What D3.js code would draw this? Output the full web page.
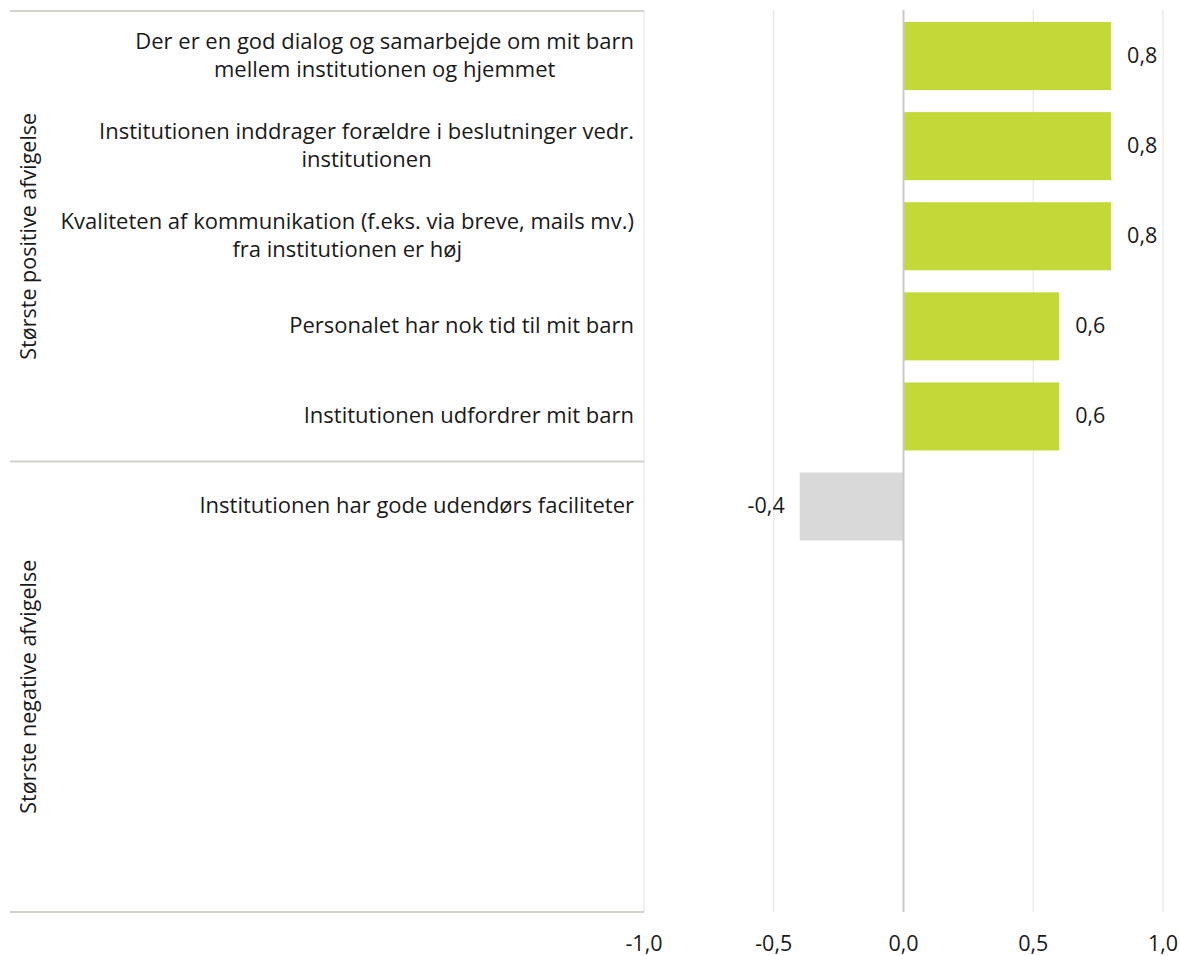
<!DOCTYPE html>
<html>
<head>
<meta charset="utf-8">
<script src="https://cdn.jsdelivr.net/npm/d3@7"></script>
<style>
  body { margin: 0; background: #fff; }
  svg text { font-family: "Open Sans", "Noto Sans", sans-serif; fill: #1a1a1a; }
</style>
</head>
<body>
<svg id="chart" width="1180" height="956"></svg>
<script>
// ---- data ----
const categories = [
  "Der er en god dialog og samarbejde om mit barn\nmellem institutionen og hjemmet",
  "Institutionen inddrager forældre i beslutninger vedr.\ninstitutionen",
  "Kvaliteten af kommunikation (f.eks. via breve, mails mv.)\nfra institutionen er høj",
  "Personalet har nok tid til mit barn",
  "Institutionen udfordrer mit barn",
  "Institutionen har gode udendørs faciliteter"
];
const values = [0.8, 0.8, 0.8, 0.6, 0.6, -0.4];
const groups = ["Største positive afvigelse", "Største negative afvigelse"];
const groupSlots = [5, 5];
const tickValues = [-1.0, -0.5, 0.0, 0.5, 1.0];
const tickLabels = ["-1,0", "-0,5", "0,0", "0,5", "1,0"];

// ---- layout ----
const svg = d3.select("#chart");
const plotTop = 11, plotBottom = 912;
const xLeft = 644, xRight = 1163;
const lineLeft = 10;
const totalSlots = d3.sum(groupSlots);
const rows = d3.range(totalSlots);
const fs = 21.5;

const x = d3.scaleLinear().domain([-1, 1]).range([xLeft, xRight]);
const y = d3.scaleBand().domain(rows).range([plotTop, plotBottom])
  .paddingInner(0.245).paddingOuter(0.1225);
const step = y.step();

const fmt = v => d3.format(".1f")(v).replace(".", ",").replace("\u2212", "-");

// gridlines
svg.append("g").selectAll("line")
  .data(tickValues.filter(v => v !== 0))
  .join("line")
  .attr("x1", d => x(d)).attr("x2", d => x(d))
  .attr("y1", plotTop - 1).attr("y2", plotBottom)
  .attr("stroke", "#e2e2e2").attr("stroke-width", 1);

// group separator lines on left
let acc = 0;
const sepIdx = [0];
groupSlots.forEach(s => { acc += s; sepIdx.push(acc); });
svg.append("g").selectAll("line")
  .data(sepIdx)
  .join("line")
  .attr("x1", lineLeft).attr("x2", xLeft)
  .attr("y1", d => plotTop + d * step).attr("y2", d => plotTop + d * step)
  .attr("stroke", "#d3d3cb").attr("stroke-width", 2);

// bars
svg.append("g").selectAll("rect")
  .data(values)
  .join("rect")
  .attr("x", d => x(Math.min(0, d)))
  .attr("width", d => Math.abs(x(d) - x(0)))
  .attr("y", (d, i) => y(i))
  .attr("height", y.bandwidth())
  .attr("fill", d => d >= 0 ? "#c3d938" : "#d9d9d9");

// zero axis
svg.append("line")
  .attr("x1", x(0)).attr("x2", x(0))
  .attr("y1", plotTop - 1).attr("y2", plotBottom)
  .attr("stroke", "#c9c9c1").attr("stroke-width", 2);

// value labels
svg.append("g").selectAll("text")
  .data(values)
  .join("text")
  .attr("x", d => d >= 0 ? x(d) + 16 : x(d) - 15)
  .attr("y", (d, i) => y(i) + y.bandwidth() / 2)
  .attr("dy", "0.3em")
  .attr("text-anchor", d => d >= 0 ? "start" : "end")
  .attr("font-size", fs)
  .text(d => fmt(d));

// category labels
const lineH = 28;
const catFs = 22;
const catG = svg.append("g");
categories.forEach((c, i) => {
  const lines = c.split("\n");
  const cy = y(i) + y.bandwidth() / 2;
  const t = catG.append("text")
    .attr("text-anchor", "middle")
    .attr("font-size", catFs);
  lines.forEach((ln, j) => {
    t.append("tspan")
      .attr("x", 0)
      .attr("y", cy + (j - (lines.length - 1) / 2) * lineH - 1)
      .attr("dy", "0.35em")
      .text(ln);
  });
  const w = t.node().getBBox().width;
  t.attr("transform", `translate(${634 - w / 2},0)`);
});

// group labels
let start = 0;
groups.forEach((g, i) => {
  const cy = plotTop + (start + groupSlots[i] / 2) * step;
  start += groupSlots[i];
  svg.append("text")
    .attr("transform", `translate(28,${cy}) rotate(-90)`)
    .attr("text-anchor", "middle")
    .attr("dy", "0.35em")
    .attr("font-size", 21.5)
    .text(g);
});

// x axis tick labels
svg.append("g").selectAll("text")
  .data(tickValues)
  .join("text")
  .attr("x", d => x(d))
  .attr("y", 943)
  .attr("dy", "0.35em")
  .attr("text-anchor", "middle")
  .attr("font-size", fs)
  .text((d, i) => tickLabels[i]);
</script>
</body>
</html>
